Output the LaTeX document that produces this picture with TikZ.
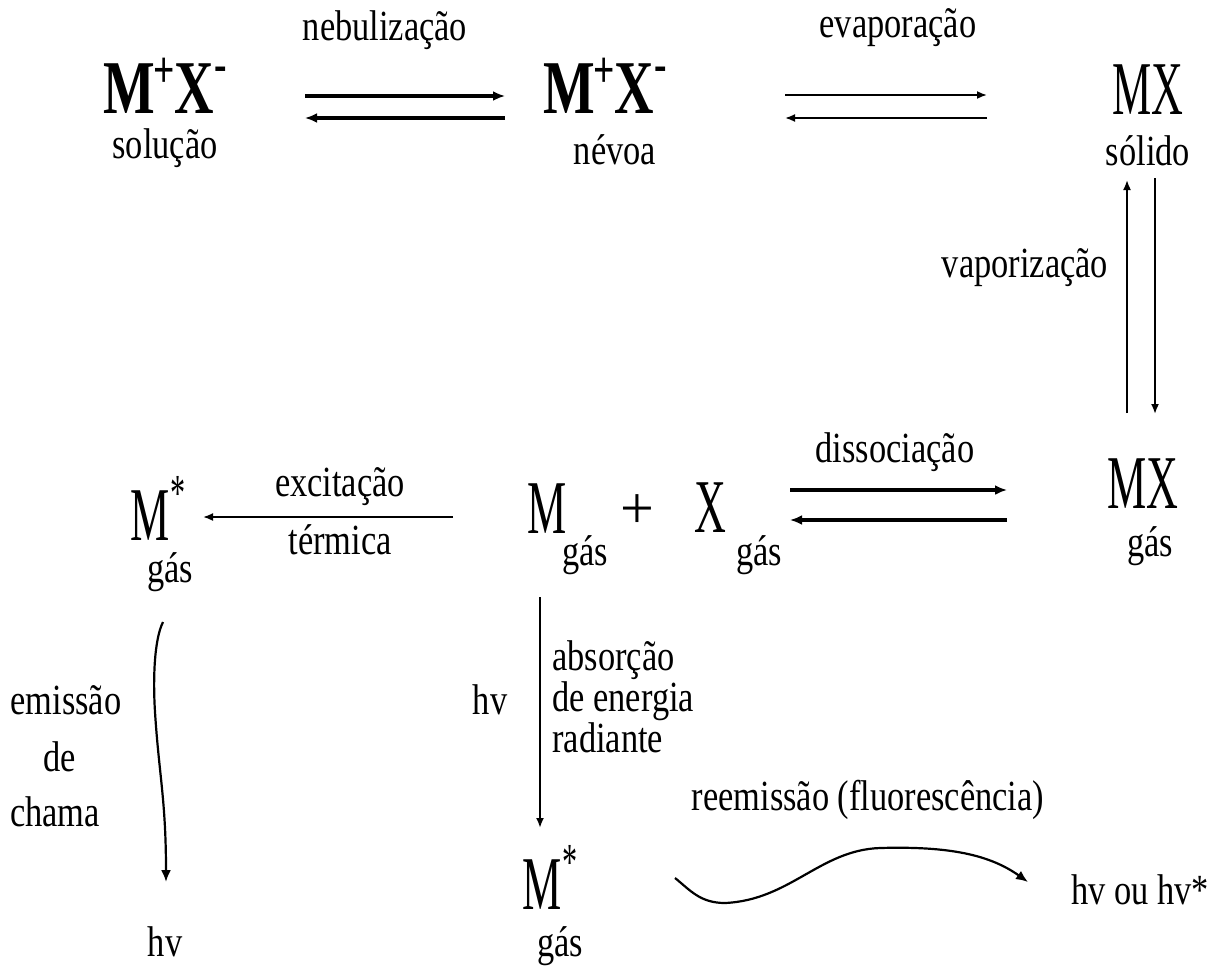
\documentclass[tikz,border=0pt]{standalone}
\usepackage{fontspec}
\usetikzlibrary{arrows.meta}
\newfontfamily\labf{Liberation Serif}[FakeStretch=0.8]
\newfontfamily\bigf{Liberation Serif}[FakeStretch=0.58]
\newfontfamily\boldf{Liberation Serif}[FakeStretch=0.72]
\newfontfamily\plusf{Liberation Serif}
\newcommand{\supp}[2]{\raisebox{#1}{\fontsize{26}{26}\selectfont #2}}
\begin{document}
\begin{tikzpicture}[x=0.5pt,y=-0.5pt,
  lbl/.style={font=\labf\fontsize{21.5}{21.5}\selectfont, inner sep=0pt},
  big/.style={font=\bigf\fontsize{38}{38}\selectfont, inner sep=0pt},
  bigb/.style={font=\boldf\bfseries\fontsize{38}{38}\selectfont, inner sep=0pt},
  eqthick/.style={line width=2pt, -{Latex[length=6pt,width=5pt]}},
  eqthin/.style={line width=0.9pt, -{Latex[length=5pt,width=4pt]}},
  curvy/.style={line width=1.1pt, -{Latex[length=6pt,width=5pt]}}]
\useasboundingbox (0,0) rectangle (1229,969);
\fill[white] (0,0) rectangle (1229,969);
% row 1
\node[bigb, anchor=base] (sol) at (165,113) {M\kern-1pt\supp{13pt}{\bfseries +}X\supp{16pt}{\bfseries -}};
\node[lbl] (solL) at (165,148) {solução};
\node[bigb, anchor=base] (nev) at (605,113) {M\kern-1pt\supp{13pt}{\bfseries +}X\supp{16pt}{\bfseries -}};
\node[lbl] (nevL) at (615,150) {névoa};
\node[big, anchor=base] (mxs) at (1148,114) {MX};
\node[lbl] (mxsL) at (1148,151) {sólido};
\node[lbl] (neb) at (385,30) {nebulização};
\node[lbl] (evap) at (898,28) {evaporação};
\coordinate (n1a) at (305,96); \coordinate (n1b) at (505,96);
\coordinate (n2a) at (505,118); \coordinate (n2b) at (305,118);
\draw[eqthick] (n1a) -- (n1b);
\draw[eqthick] (n2a) -- (n2b);
\coordinate (e1a) at (785,95); \coordinate (e1b) at (987,95);
\coordinate (e2a) at (987,118); \coordinate (e2b) at (785,118);
\draw[eqthin] (e1a) -- (e1b);
\draw[eqthin] (e2a) -- (e2b);
% vaporization
\coordinate (v1a) at (1127,413); \coordinate (v1b) at (1127,180);
\coordinate (v2a) at (1155,178); \coordinate (v2b) at (1155,414);
\draw[eqthin] (v1a) -- (v1b);
\draw[eqthin] (v2a) -- (v2b);
\node[lbl] (vap) at (1025,268) {vaporização};
% row 2
\node[big, anchor=base] (mxg) at (1143,508) {MX};
\node[lbl] (mxgL) at (1150,546) {gás};
\node[lbl] (diss) at (895,452) {dissociação};
\coordinate (d1a) at (790,490); \coordinate (d1b) at (1007,490);
\coordinate (d2a) at (1007,520); \coordinate (d2b) at (790,520);
\draw[eqthick] (d1a) -- (d1b);
\draw[eqthick] (d2a) -- (d2b);
\node[big, anchor=base] (xg) at (710,532) {X};
\node[lbl] (xgL) at (759,555) {gás};
\node[font=\plusf\fontsize{30}{30}\selectfont, inner sep=0pt, anchor=base] (plus) at (637,528) {+};
\node[big, anchor=base] (mg) at (547,533) {M};
\node[lbl] (mgL) at (585,555) {gás};
\node[lbl] (exc) at (340,487) {excitação};
\node[lbl] (term) at (340,540) {térmica};
\coordinate (xa) at (453,517); \coordinate (xb) at (203,517);
\draw[eqthin] (xa) -- (xb);
\node[big, anchor=base] (ms1) at (158,540) {M\supp{15pt}{*}};
\node[lbl] (ms1L) at (170,572) {gás};
% absorption
\coordinate (aa) at (540,597); \coordinate (ab) at (540,828);
\draw[eqthin, line width=1.4pt] (aa) -- (ab);
\node[lbl] (hva) at (490,700) {hv};
\node[lbl, anchor=north west, align=left, font=\labf\fontsize{21.5}{14.5}\selectfont] (abs) at (552,640) {absorção\\de energia\\radiante};
% emission
\coordinate (ema) at (163,622); \coordinate (emb) at (166,882);
\draw[curvy] (ema) .. controls (154,640) and (153,680) .. (155,712) .. controls (159,775) and (166,800) .. (emb);
\node[lbl] (em1) at (66,700) {emissão};
\node[lbl] (em2) at (60,757) {de};
\node[lbl] (em3) at (55,812) {chama};
\node[lbl] (hve) at (165,942) {hv};
% bottom
\node[big, anchor=base] (ms2) at (550,909) {M\supp{15pt}{*}};
\node[lbl] (ms2L) at (560,946) {gás};
\coordinate (wa) at (675,878); \coordinate (wb) at (1028,882);
\draw[curvy] (wa) .. controls (690,890) and (700,903) .. (725,903) .. controls (790,900) and (820,850) .. (880,848) .. controls (950,846) and (990,855) .. (wb);
\node[lbl] (ree) at (868,800) {reemissão (fluorescência)};
\node[lbl] (hvo) at (1140,890) {hv ou hv*};
\end{tikzpicture}
\end{document}
